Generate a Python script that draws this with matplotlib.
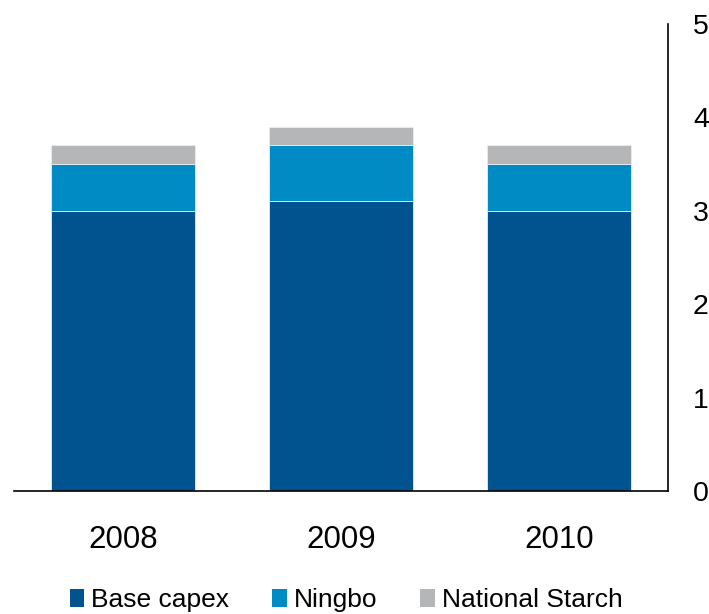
import matplotlib
matplotlib.use("Agg")
import matplotlib.pyplot as plt
from matplotlib.patches import Patch
import numpy as np

plt.rcParams['font.family'] = ['Liberation Sans', 'DejaVu Sans']

years = ["2008", "2009", "2010"]
base_capex = [3.0, 3.1, 3.0]
ningbo = [0.5, 0.6, 0.5]
national_starch = [0.2, 0.2, 0.2]
y_ticks = [0, 1, 2, 3, 4, 5]

colors = {"Base capex": "#00538F", "Ningbo": "#008BC4", "National Starch": "#B5B6B8"}

fig = plt.figure(figsize=(7.09, 6.14), dpi=100)
ax = fig.add_axes([14/709, 1 - 491/614, 654/709, 467/614])

x = np.arange(len(years))
w = 0.665
b1 = np.array(base_capex)
b2 = b1 + np.array(ningbo)
ax.bar(x, base_capex, w, color=colors["Base capex"], edgecolor="#E8EEF4", linewidth=0.6)
ax.bar(x, ningbo, w, bottom=b1, color=colors["Ningbo"], edgecolor="#E8EEF4", linewidth=0.6)
ax.bar(x, national_starch, w, bottom=b2, color=colors["National Starch"], edgecolor="#E8EEF4", linewidth=0.6)

ax.set_xlim(-0.5, 2.5)
ax.set_ylim(0, 5)
ax.set_xticks(x)
ax.set_xticklabels(years, fontsize=22.5)
ax.yaxis.tick_right()
ax.set_yticks(y_ticks)
ax.set_yticklabels([str(t) for t in y_ticks], fontsize=20.5)
ax.tick_params(axis='y', length=0, pad=18)
ax.tick_params(axis='x', length=0, pad=24.5)
for s in ["top", "left"]:
    ax.spines[s].set_visible(False)
ax.spines["bottom"].set_linewidth(1.2)
ax.spines["right"].set_linewidth(1.2)

handles = [Patch(facecolor=c, edgecolor='none', label=k) for k, c in colors.items()]
fig.legend(handles=handles, loc='center', bbox_to_anchor=(346/709, 1 - 600/614), ncol=3,
           frameon=False, fontsize=19, handlelength=0.55, handleheight=0.7,
           handletextpad=0.25, columnspacing=1.65, borderaxespad=0)

fig.savefig("out.png", dpi=100)
